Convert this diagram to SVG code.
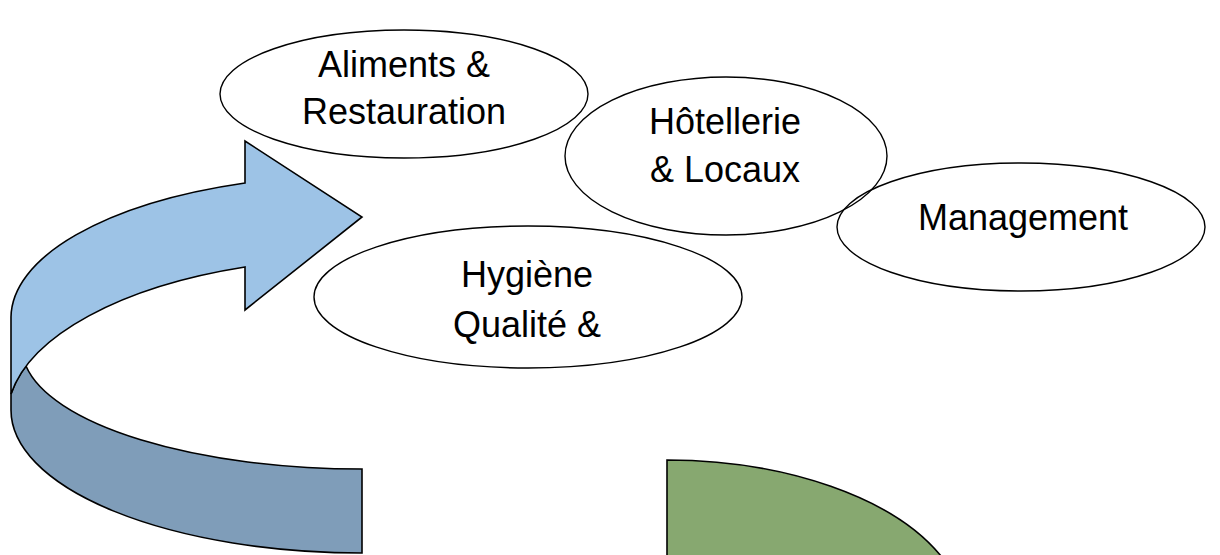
<svg xmlns="http://www.w3.org/2000/svg" width="1220" height="555" viewBox="0 0 1220 555">
  <style>
    .bubble { fill: none; stroke: #000; stroke-width: 1.4; }
    .label { font-family: "Liberation Sans", Arial, sans-serif; font-size: 36px; fill: #000; text-anchor: middle; }
    .band { stroke: #000; stroke-width: 1.6; stroke-linejoin: miter; }
  </style>
  <rect x="0" y="0" width="1220" height="555" fill="#ffffff"/>

  <g id="connectors">
    <!-- back (dark) part of the circular arrow -->
    <path id="arrow-back" class="band" fill="#7F9DB9"
          d="M 26,366 A 340 121.5 0 0 0 362,469 L 362,553 A 351 143 0 0 1 11,410 L 11,394 A 355 160 0 0 1 26,366 Z"/>
    <!-- front (light) part of the circular arrow with head -->
    <path id="arrow-front" class="band" fill="#9DC3E6"
          d="M 245,183 L 245,141 L 362,217 L 245,310 L 245,267 A 355 160 0 0 0 11,394 L 11,317 A 351 143 0 0 1 245,183 Z"/>
    <!-- green shape at bottom -->
    <path id="green-shape" class="band" fill="#87A870"
          d="M 667,560 L 667,460 A 300 160 0 0 1 941,556 Z"/>
  </g>

  <g id="node-aliments">
    <ellipse class="bubble" cx="404" cy="94" rx="184" ry="64"/>
    <text class="label" x="404" y="77">Aliments &amp;</text>
    <text class="label" x="404" y="124">Restauration</text>
  </g>

  <g id="node-hotellerie">
    <ellipse class="bubble" cx="726" cy="156" rx="161" ry="79"/>
    <text class="label" x="725" y="134">Hôtellerie</text>
    <text class="label" x="725" y="182">&amp; Locaux</text>
  </g>

  <g id="node-management">
    <ellipse class="bubble" cx="1021" cy="227" rx="184" ry="64"/>
    <text class="label" x="1023" y="230">Management</text>
  </g>

  <g id="node-hygiene">
    <ellipse class="bubble" cx="528" cy="297" rx="214" ry="71"/>
    <text class="label" x="527" y="287">Hygiène</text>
    <text class="label" x="527" y="337">Qualité &amp;</text>
  </g>
</svg>
